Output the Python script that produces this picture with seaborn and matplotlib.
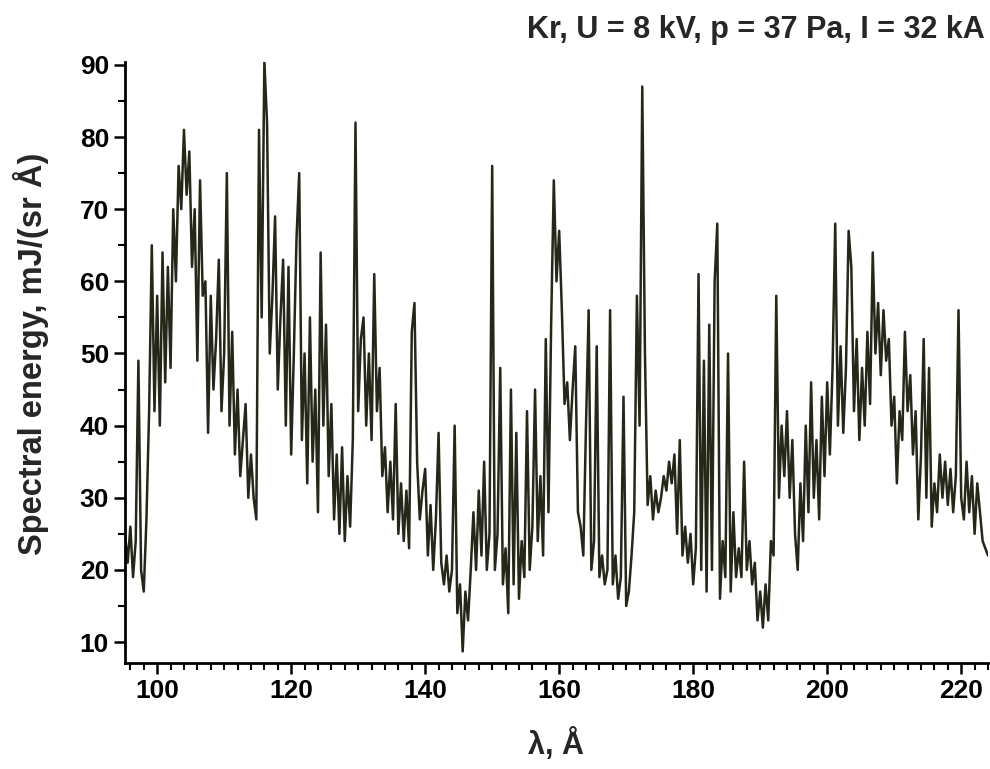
import numpy as np
import pandas as pd
import seaborn as sns
import matplotlib.pyplot as plt
from matplotlib.ticker import MultipleLocator

# spectrum sampled every 0.4 A starting at 95.2 A (10 samples = 4 A per row)
lam_start = 95.2
lam_step = 0.4
energy = [
    25, 21, 26, 19, 24, 49, 20, 17, 27, 42,      # 95.2 - 98.8
    65, 42, 58, 40, 64, 46, 62, 48, 70, 60,      # 99.2 - 102.8
    76, 70, 81, 72, 78, 62, 70, 49, 74, 58,      # 103.2 - 106.8
    60, 39, 58, 45, 52, 63, 42, 50, 75, 40,      # 107.2 - 110.8
    53, 36, 45, 33, 38, 43, 30, 36, 30, 27,      # 111.2 - 114.8
    81, 55, 90.5, 82, 50, 58, 69, 45, 55, 63,    # 115.2 - 118.8
    40, 62, 36, 50, 66, 75, 38, 50, 32, 55,      # 119.2 - 122.8
    35, 45, 28, 64, 40, 54, 33, 43, 27, 36,      # 123.2 - 126.8
    25, 37, 24, 33, 26, 38, 82, 42, 52, 55,      # 127.2 - 130.8
    40, 50, 38, 61, 42, 48, 33, 37, 28, 35,      # 131.2 - 134.8
    27, 43, 25, 32, 24, 31, 23, 53, 57, 35,      # 135.2 - 138.8
    27, 31, 34, 22, 29, 20, 27, 39, 21, 18,      # 139.2 - 142.8
    22, 17, 20, 40, 14, 18, 8.7, 17, 13, 20,     # 143.2 - 146.8
    28, 20, 31, 22, 35, 20, 25, 76, 20, 25,      # 147.2 - 150.8
    48, 18, 23, 14, 45, 18, 39, 16, 24, 19,      # 151.2 - 154.8
    42, 20, 26, 45, 24, 33, 22, 52, 28, 54,      # 155.2 - 158.8
    74, 60, 67, 56, 43, 46, 38, 45, 51, 28,      # 159.2 - 162.8
    26, 22, 40, 56, 20, 24, 51, 19, 22, 18,      # 163.2 - 166.8
    20, 56, 18, 22, 16, 19, 44, 15, 17, 22,      # 167.2 - 170.8
    28, 58, 40, 87, 50, 29, 33, 27, 31, 28,      # 171.2 - 174.8
    30, 33, 31, 35, 32, 36, 25, 38, 22, 26,      # 175.2 - 178.8
    21, 25, 18, 23, 61, 20, 49, 17, 54, 20,      # 179.2 - 182.8
    60, 68, 16, 24, 19, 50, 17, 28, 19, 23,      # 183.2 - 186.8
    19, 35, 20, 24, 18, 21, 13, 17, 12, 18,      # 187.2 - 190.8
    13, 24, 22, 58, 30, 40, 33, 42, 30, 38,      # 191.2 - 194.8
    25, 20, 32, 24, 40, 28, 46, 30, 38, 27,      # 195.2 - 198.8
    44, 33, 46, 36, 48, 68, 40, 51, 39, 48,      # 199.2 - 202.8
    67, 62, 42, 52, 38, 48, 40, 53, 43, 64,      # 203.2 - 206.8
    50, 57, 47, 56, 49, 52, 40, 44, 32, 42,      # 207.2 - 210.8
    38, 53, 42, 47, 36, 42, 27, 36, 52, 30,      # 211.2 - 214.8
    48, 26, 32, 28, 36, 30, 35, 29, 34, 28,      # 215.2 - 218.8
    33, 56, 30, 27, 35, 28, 33, 25, 32, 28,      # 219.2 - 222.8
    24, 23, 22,                                  # 223.2 - 224.0
]
wavelength = lam_start + lam_step * np.arange(len(energy))

title = "Kr, U = 8 kV, p = 37 Pa, I = 32 kA"
xlabel = "\u03bb, \u00c5"
ylabel = "Spectral energy, mJ/(sr \u00c5)"

df = pd.DataFrame({"wavelength": wavelength, "energy": energy})

sns.set_style("ticks")
plt.rcParams["font.family"] = ["Liberation Sans", "DejaVu Sans"]
plt.rcParams["font.weight"] = "bold"

fig = plt.figure(figsize=(9.9, 7.69), dpi=100)
ax = fig.add_axes([125 / 990, 1 - 663 / 769, (988 - 125) / 990, (663 - 62) / 769])

sns.lineplot(data=df, x="wavelength", y="energy", ax=ax, estimator=None,
             color="#262619", linewidth=1.8)

ax.set_xlim(95.2, 224.0)
ax.set_ylim(7.1, 90.4)
ax.xaxis.set_major_locator(MultipleLocator(20))
ax.xaxis.set_minor_locator(MultipleLocator(2))
ax.yaxis.set_major_locator(MultipleLocator(10))
ax.yaxis.set_minor_locator(MultipleLocator(5))

# only the left and bottom axis lines
sns.despine(ax=ax)
for side in ["left", "bottom"]:
    ax.spines[side].set_linewidth(2)
    ax.spines[side].set_color("black")
ax.tick_params(which="major", direction="out", length=8, width=1.8, labelsize=19, colors="black")
ax.tick_params(which="minor", direction="out", length=5, width=1.5, colors="black")
for lbl in ax.get_xticklabels() + ax.get_yticklabels():
    lbl.set_fontweight("bold")

ax.set_xlabel(xlabel, fontsize=22, fontweight="bold", labelpad=18)
ax.set_ylabel(ylabel, fontsize=23.5, fontweight="bold")
ax.yaxis.set_label_coords(-0.088, 0.515)
fig.text(985 / 990, 1 - 30 / 769, title, ha="right", va="center", fontsize=22, fontweight="bold")

fig.savefig("out.png", dpi=100)
